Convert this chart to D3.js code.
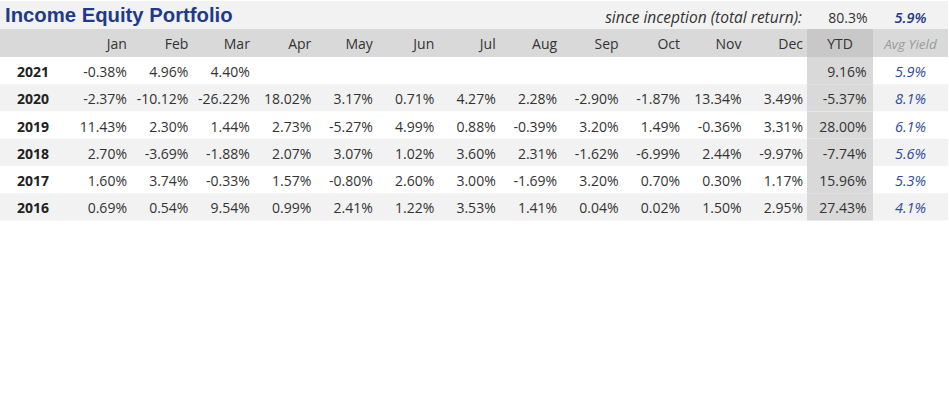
<!DOCTYPE html>
<html><head><meta charset="utf-8">
<script src="https://cdn.jsdelivr.net/npm/d3@7"></script>
<style>
html,body{margin:0;padding:0;background:#fff;}
svg{display:block;}
</style></head>
<body>
<svg id="c" width="949" height="404"></svg>
<script>
const title = "Income Equity Portfolio";
const inceptionLabel = "since inception (total return):";
const inceptionReturn = "80.3%";
const inceptionYield = "5.9%";
const months = ["Jan","Feb","Mar","Apr","May","Jun","Jul","Aug","Sep","Oct","Nov","Dec"];
const years = ["2021","2020","2019","2018","2017","2016"];
const monthly = [
  [-0.38, 4.96, 4.40],
  [-2.37, -10.12, -26.22, 18.02, 3.17, 0.71, 4.27, 2.28, -2.90, -1.87, 13.34, 3.49],
  [11.43, 2.30, 1.44, 2.73, -5.27, 4.99, 0.88, -0.39, 3.20, 1.49, -0.36, 3.31],
  [2.70, -3.69, -1.88, 2.07, 3.07, 1.02, 3.60, 2.31, -1.62, -6.99, 2.44, -9.97],
  [1.60, 3.74, -0.33, 1.57, -0.80, 2.60, 3.00, -1.69, 3.20, 0.70, 0.30, 1.17],
  [0.69, 0.54, 9.54, 0.99, 2.41, 1.22, 3.53, 1.41, 0.04, 0.02, 1.50, 2.95]
];
const ytd = [9.16, -5.37, 28.00, -7.74, 15.96, 27.43];
const avgYield = [5.9, 8.1, 6.1, 5.6, 5.3, 4.1];

const svg = d3.select("#c");
const W = 948;
const font = "'Open Sans', sans-serif";
const fs = 14;

const x = d3.scaleBand().domain(months).range([65.5, 803]);
const y = d3.scaleBand().domain(years).range([57, 220.5]);
const ytdX0 = 807, ytdX1 = 873, ytdRight = 866.5, yieldC = 910.5;
const pct = v => v.toFixed(2) + "%";

// title row
svg.append("rect").attr("x",0).attr("y",1).attr("width",W).attr("height",28).attr("fill","#f2f2f2");
svg.append("text").attr("x",5).attr("y",22).text(title)
  .attr("font-family","'Liberation Sans', Arial, sans-serif").attr("font-weight","bold")
  .attr("font-size",20.3).attr("fill","#1f3a8c");
svg.append("text").attr("x",802).attr("y",22.5).attr("text-anchor","end").text(inceptionLabel)
  .attr("font-family",font).attr("font-style","italic").attr("font-size",15.5).attr("fill","#333");
svg.append("text").attr("x",ytdRight+1).attr("y",23).attr("text-anchor","end").text(inceptionReturn)
  .attr("font-family",font).attr("font-size",fs).attr("fill","#333");
svg.append("text").attr("x",yieldC).attr("y",23).attr("text-anchor","middle").text(inceptionYield)
  .attr("font-family",font).attr("font-style","italic").attr("font-weight",600).attr("font-size",14.5).attr("fill","#1f3a8c");

// header row
svg.append("rect").attr("x",0).attr("y",29).attr("width",W).attr("height",28).attr("fill","#d9d9d9");
svg.append("rect").attr("x",ytdX0).attr("y",29).attr("width",ytdX1-ytdX0).attr("height",28).attr("fill","#c8c8c8");
svg.selectAll("text.mh").data(months).join("text").attr("class","mh")
  .attr("x",d => x(d)+x.bandwidth()).attr("y",49).attr("text-anchor","end").text(d=>d)
  .attr("font-family",font).attr("font-size",fs).attr("fill","#333");
svg.append("text").attr("x",(ytdX0+ytdX1)/2).attr("y",49).attr("text-anchor","middle").text("YTD")
  .attr("font-family",font).attr("font-size",fs).attr("fill","#333");
svg.append("text").attr("x",yieldC).attr("y",48.5).attr("text-anchor","middle").text("Avg Yield")
  .attr("font-family",font).attr("font-style","italic").attr("font-size",13.5).attr("fill","#999");

// data rows
const rows = svg.selectAll("g.row").data(years).join("g").attr("class","row")
  .attr("transform", d => `translate(0,${y(d)})`);
const h = y.bandwidth();
const base = h/2 + 6.5;
rows.append("rect").attr("x",0).attr("y",0).attr("width",W).attr("height",h)
  .attr("fill",(d,i)=> i%2 ? "#f2f2f2" : "#ffffff");
rows.append("rect").attr("x",ytdX0).attr("y",0).attr("width",ytdX1-ytdX0).attr("height",h).attr("fill","#d9d9d9");
rows.append("text").attr("x",17).attr("y",base).text(d=>d)
  .attr("font-family",font).attr("font-weight","bold").attr("font-size",fs).attr("fill","#222");
rows.each(function(yr,i){
  const g = d3.select(this);
  g.selectAll("text.v").data(monthly[i]).join("text").attr("class","v")
    .attr("x",(v,j)=> x(months[j]) + x.bandwidth()).attr("y",base).attr("text-anchor","end")
    .text(pct).attr("font-family",font).attr("font-size",fs).attr("fill","#333");
  g.append("text").attr("x",ytdRight).attr("y",base).attr("text-anchor","end").text(pct(ytd[i]))
    .attr("font-family",font).attr("font-size",fs).attr("fill","#333");
  g.append("text").attr("x",yieldC).attr("y",base).attr("text-anchor","middle").text(avgYield[i].toFixed(1)+"%")
    .attr("font-family",font).attr("font-style","italic").attr("font-size",14.5).attr("fill","#2e4c9e");
});
</script>
</body></html>
